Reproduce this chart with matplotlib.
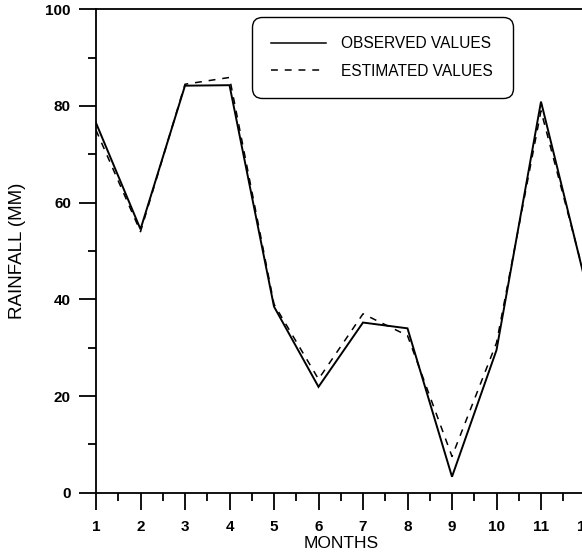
import matplotlib
matplotlib.use("Agg")
import matplotlib.pyplot as plt
from matplotlib.lines import Line2D
from matplotlib.ticker import MultipleLocator

months = [1, 2, 3, 4, 5, 6, 7, 8, 9, 10, 11, 12]
observed = [76.5, 54.5, 84.2, 84.3, 38.5, 21.9, 35.2, 34.0, 3.3, 29.5, 80.9, 43.5]
estimated = [75.0, 54.0, 84.5, 85.9, 39.0, 23.5, 37.0, 32.5, 7.5, 31.0, 79.0, 44.0]
x_ticks = list(range(1, 13))
y_ticks = [0, 20, 40, 60, 80, 100]

plt.rcParams['font.family'] = ['Liberation Sans', 'DejaVu Sans']

W, H = 582, 556
fig = plt.figure(figsize=(W / 100, H / 100), dpi=100)
x0, x1 = 96, 585.5
ytop, ybot = 9.3, 492.7
ax = fig.add_axes([x0 / W, 1 - ybot / H, (x1 - x0) / W, (ybot - ytop) / H])

ax.plot(months, observed, color='black', lw=1.4, solid_joinstyle='miter')
ax.plot(months, estimated, color='black', lw=1.1, linestyle=(0, (4.5, 4.5)))

ax.set_xlim(1, 12)
ax.set_ylim(0, 100)
ax.set_xticks(x_ticks)
ax.set_yticks(y_ticks)
ax.xaxis.set_minor_locator(MultipleLocator(0.5))
ax.yaxis.set_minor_locator(MultipleLocator(10))

for s in ['left', 'bottom', 'top', 'right']:
    ax.spines[s].set_linewidth(1.3)

ax.tick_params(which='major', direction='out', length=12, width=1.3, pad=6,
               labelsize=11)
ax.tick_params(which='minor', direction='out', length=6, width=1.3)
ax.tick_params(axis='x', which='major', pad=8)
for lab in ax.get_xticklabels() + ax.get_yticklabels():
    lab.set_fontweight('bold')

ax.set_xlabel('MONTHS', fontsize=12.5)
ax.set_ylabel('RAINFALL (MM)', fontsize=13.5)
ax.xaxis.set_label_coords(0.5, (ybot - 536) / (ybot - ytop), transform=ax.transAxes)
ax.xaxis.label.set_va('top')
ax.yaxis.set_label_coords((26 - x0) / (x1 - x0), 0.5)

handles = [Line2D([], [], color='black', lw=1.1),
           Line2D([], [], color='black', lw=1.1, linestyle=(0, (4.5, 4.5)))]
leg = ax.legend(handles, ['OBSERVED VALUES', 'ESTIMATED VALUES'],
                loc='upper left', bbox_to_anchor=(252 / W, 1 - 17 / H),
                bbox_transform=fig.transFigure, borderaxespad=0,
                fontsize=11.2, handlelength=3.5, handletextpad=1.0,
                borderpad=1.25, labelspacing=0.78, fancybox=True,
                framealpha=1, edgecolor='black', shadow=False)
leg.get_frame().set_linewidth(1.0)
leg.get_frame().set_boxstyle('round,pad=0,rounding_size=0.65')

fig.savefig('out.png', dpi=100)
